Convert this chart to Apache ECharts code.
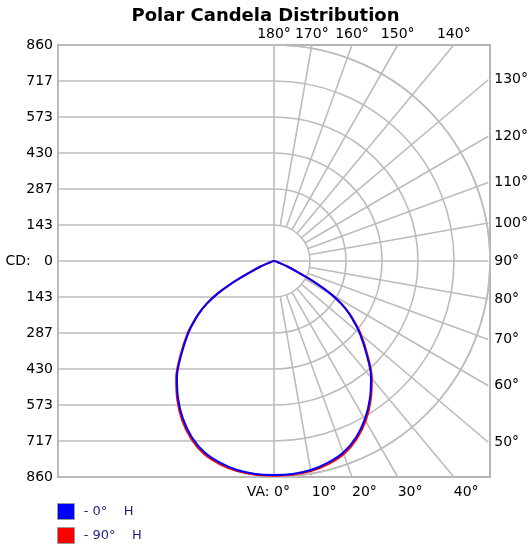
<!DOCTYPE html>
<html>
<head>
<meta charset="utf-8">
<script src="https://cdn.jsdelivr.net/npm/echarts@6/dist/echarts.min.js"></script>
<style>
html, body { margin: 0; padding: 0; background: #fff; }
#main { width: 531px; height: 548px; }
</style>
</head>
<body>
<div id="main"></div>
<script>
// vertical angle (deg from nadir) and candela
var verticalAngles = [0, 5, 10, 15, 20, 25, 30, 35, 40, 45, 50, 52.5, 55, 57.5, 60, 62.5, 65, 67.5, 70, 72.5, 75, 80, 90, 100, 110, 120, 130, 140, 150, 160, 170, 180];
var candela0H  = [852, 851, 845, 831, 810, 774, 725, 666, 601, 520, 445, 405, 365, 318, 258, 180, 100, 60, 25, 0, 0, 0, 0, 0, 0, 0, 0, 0, 0, 0, 0, 0];
var candela90H = [855, 854, 849, 837, 817, 781, 732, 672, 606, 525, 450, 409, 368, 320, 260, 181, 100, 60, 25, 0, 0, 0, 0, 0, 0, 0, 0, 0, 0, 0, 0, 0];
var legendNames = ['- 0°    H', '- 90°    H'];

// axis ticks
var cdMax = 860;
var cdStep = cdMax / 6;
var gridAngles = [10, 20, 30, 40, 50, 60, 70, 80, 90, 100, 110, 120, 130, 140, 150, 160, 170];
var topAngles = [180, 170, 160, 150, 140];
var rightAngles = [130, 120, 110, 100, 90, 80, 70, 60, 50];
var bottomAngles = [0, 10, 20, 30, 40];

var RAD = Math.PI / 180;
var FONT = 'DejaVu Sans';
var gridColor = '#bcbcbc';

// full loop: right half is the angle itself, left half mirrored
function loop(values) {
    var pts = [];
    for (var i = 0; i < verticalAngles.length; i++) {
        pts.push([values[i], verticalAngles[i]]);
    }
    for (var j = verticalAngles.length - 1; j >= 0; j--) {
        pts.push([values[j], 360 - verticalAngles[j]]);
    }
    return pts;
}

// radial grid lines from inner ring out to the frame
function radials() {
    var out = [];
    for (var i = 0; i < gridAngles.length; i++) {
        var a = gridAngles[i] * RAD;
        var r0 = gridAngles[i] === 90 ? 0 : cdStep;
        var r1 = cdMax / Math.max(Math.abs(Math.sin(a)), Math.abs(Math.cos(a)));
        out.push({coords: [[r0 * Math.sin(a), -r0 * Math.cos(a)], [r1 * Math.sin(a), -r1 * Math.cos(a)]]});
    }
    return out;
}

var labelStyle = {color: '#000', fontSize: 14, fontFamily: FONT};
var noAxis = {axisLine: {show: false}, axisTick: {show: false}, splitLine: {show: false}};

var chart = echarts.init(document.getElementById('main'));
chart.setOption({
    animation: false,
    title: {
        text: 'Polar Candela Distribution',
        left: 'center',
        top: 2,
        textStyle: {fontSize: 18, fontWeight: 'bold', fontFamily: FONT, color: '#000'}
    },
    legend: {
        orient: 'vertical',
        left: 57,
        top: 503,
        padding: 0,
        itemWidth: 17,
        itemHeight: 16,
        itemGap: 7,
        icon: 'rect',
        data: legendNames,
        formatter: function (n) { return ' ' + n; },
        itemStyle: {borderColor: '#9a9a9a', borderWidth: 1},
        textStyle: {color: '#1f1f8a', fontSize: 13, fontFamily: FONT}
    },
    grid: [
        {left: 58, top: 45, width: 432, height: 432, show: true, borderColor: '#b4b4b4', borderWidth: 2},
        {left: 58, top: 45, width: 216, height: 432},
        {left: 274, top: 45, width: 216, height: 432}
    ],
    xAxis: [
        {gridIndex: 0, type: 'value', min: -cdMax, max: cdMax, show: false},
        Object.assign({gridIndex: 1, type: 'value', min: -cdMax, max: 0, interval: cdMax, axisLabel: {show: false}}, noAxis,
            {splitLine: {show: true, lineStyle: {color: gridColor, width: 1.6}}}),
        Object.assign({gridIndex: 2, type: 'value', position: 'top', min: 0, max: cdMax}, noAxis, {
            axisLabel: Object.assign({
                margin: 4,
                customValues: topAngles.map(function (a) { return cdMax * Math.tan((180 - a) * RAD); }),
                formatter: function (v) { return Math.round(180 - Math.atan(v / cdMax) / RAD) + '°'; }
            }, labelStyle)
        }),
        Object.assign({gridIndex: 2, type: 'value', position: 'bottom', min: 0, max: cdMax}, noAxis, {
            axisLabel: Object.assign({
                margin: 8,
                align: 'left',
                customValues: bottomAngles.map(function (a) { return cdMax * Math.tan(a * RAD); }),
                formatter: function (v) { return Math.round(Math.atan(v / cdMax) / RAD) + '°'; }
            }, labelStyle)
        }),
        Object.assign({gridIndex: 2, type: 'value', position: 'bottom', min: 0, max: cdMax}, noAxis, {
            axisLabel: Object.assign({
                margin: 8,
                align: 'right',
                customValues: [0],
                formatter: function () { return 'VA: '; }
            }, labelStyle)
        })
    ],
    yAxis: [
        Object.assign({gridIndex: 0, type: 'value', min: -cdMax, max: cdMax, interval: cdStep}, noAxis, {
            axisLabel: Object.assign({
                margin: 5,
                formatter: function (v) {
                    var c = Math.round(Math.abs(v));
                    return c === 0 ? 'CD:   0' : String(c);
                }
            }, labelStyle)
        }),
        Object.assign({gridIndex: 1, type: 'value', min: -cdMax, max: cdMax, interval: cdStep, axisLabel: {show: false}}, noAxis,
            {splitLine: {show: true, lineStyle: {color: gridColor, width: 1.6}}}),
        Object.assign({gridIndex: 2, type: 'value', position: 'right', min: -cdMax, max: cdMax}, noAxis, {
            axisLabel: Object.assign({
                margin: 6,
                padding: [4, 0, 0, 0],
                customValues: rightAngles.map(function (a) { return cdMax * Math.tan((a - 90) * RAD); }),
                formatter: function (v) { return Math.round(90 + Math.atan(v / cdMax) / RAD) + '°'; }
            }, labelStyle)
        })
    ],
    polar: [
        {center: [274, 261], radius: 216},
        {center: [274, 261], radius: 216}
    ],
    angleAxis: [
        {polarIndex: 0, type: 'value', min: 0, max: 180, startAngle: 90, endAngle: -90, clockwise: true,
            axisLine: {show: true, lineStyle: {color: gridColor, width: 1.6}},
            axisTick: {show: false}, axisLabel: {show: false}, splitLine: {show: false}},
        {polarIndex: 1, type: 'value', min: 0, max: 360, startAngle: 270, clockwise: false, show: false}
    ],
    radiusAxis: [
        {polarIndex: 0, type: 'value', min: 0, max: cdMax, interval: cdStep,
            axisLine: {show: false}, axisTick: {show: false}, axisLabel: {show: false},
            splitLine: {show: true, lineStyle: {color: gridColor, width: 1.6}}},
        {polarIndex: 1, type: 'value', min: 0, max: cdMax, show: false}
    ],
    series: [
        {
            type: 'lines',
            coordinateSystem: 'cartesian2d',
            xAxisIndex: 2,
            yAxisIndex: 2,
            silent: true,
            data: radials(),
            lineStyle: {color: gridColor, width: 1.6, opacity: 1}
        },
        {
            name: legendNames[1],
            type: 'line',
            coordinateSystem: 'polar',
            polarIndex: 1,
            data: loop(candela90H),
            symbol: 'none',
            smooth: 0.3,
            color: '#ff0000',
            lineStyle: {color: '#ff0000', width: 2}
        },
        {
            name: legendNames[0],
            type: 'line',
            coordinateSystem: 'polar',
            polarIndex: 1,
            data: loop(candela0H),
            symbol: 'none',
            smooth: 0.3,
            color: '#0000ff',
            lineStyle: {color: '#0000ff', width: 2}
        }
    ]
});
</script>
</body>
</html>
